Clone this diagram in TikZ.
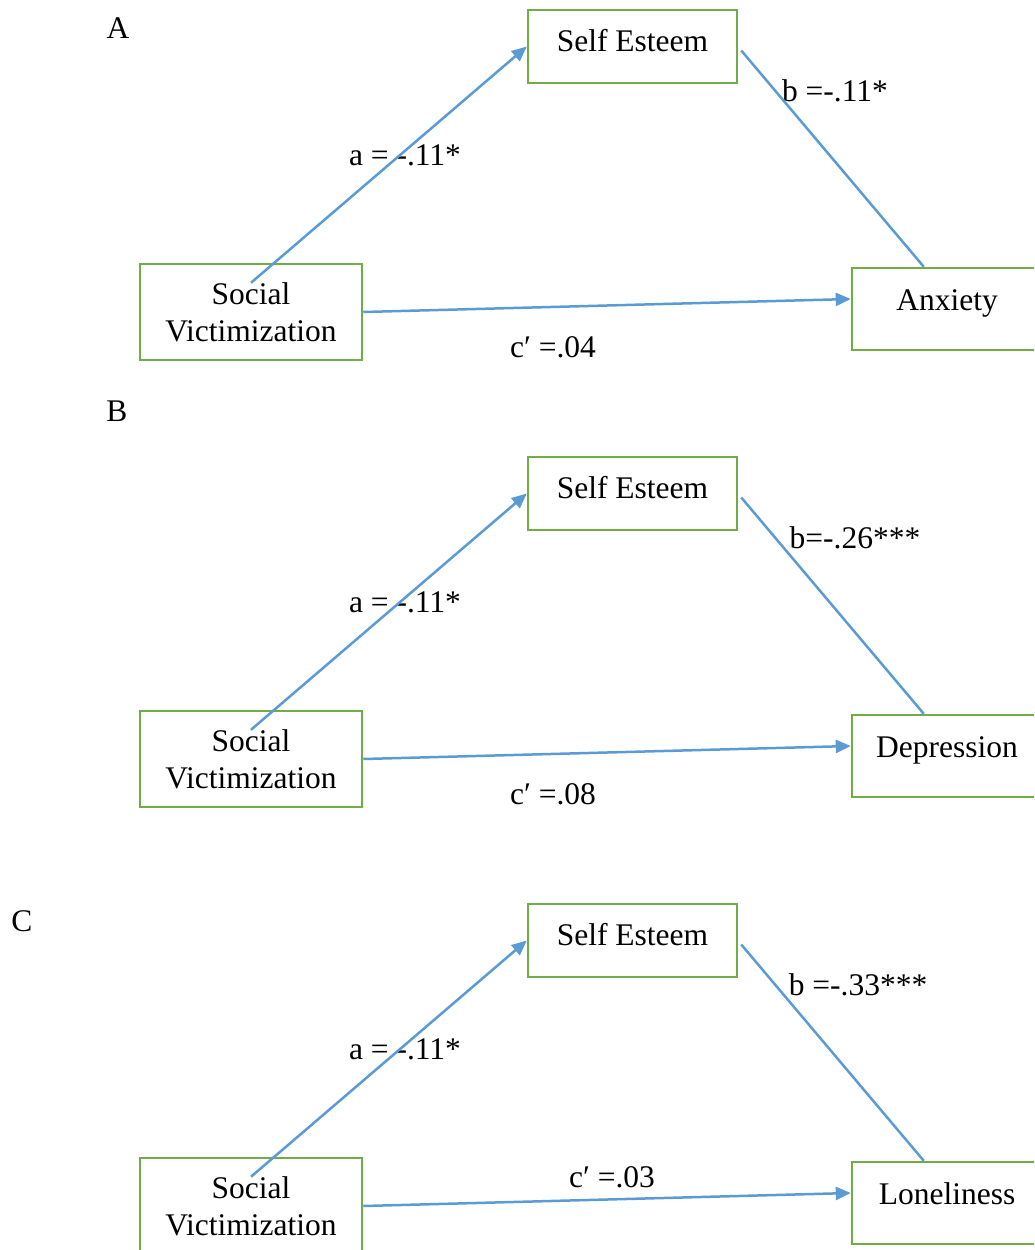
\documentclass[tikz,border=0pt]{standalone}
\usepackage{fontspec}
\setmainfont{Liberation Serif}
\usepackage{xcolor}
\usepackage{tikz}
\usetikzlibrary{shapes, arrows.meta, positioning, calc}
\definecolor{boxgreen}{RGB}{112,173,71}
\definecolor{lineblue}{RGB}{91,155,213}

\begin{document}
\begin{tikzpicture}
  [
    x=1pt, y=-1pt,
    every node/.style={font=\fontsize{31.5}{37}\selectfont},
    Mediator/.style={rectangle, draw=boxgreen, line width=2.5pt, minimum width=209pt,
      inner ysep=8pt, text height=33pt, text depth=24pt},
    Predictor/.style={rectangle, draw=boxgreen, line width=2.5pt, minimum width=222pt,
      minimum height=96pt, align=center},
    Outcome/.style={rectangle, draw=boxgreen, line width=2.5pt, minimum width=190pt,
      inner ysep=8pt, text height=34pt, text depth=32pt},
    Path/.style={draw=lineblue, line width=2.5pt},
    Coef/.style={inner sep=0pt}
  ]
  \useasboundingbox (0,0) rectangle (1034,1250);
  \clip (0,0) rectangle (1034,1250);
  % Panel A
  \node (lblA) at (118, 28) {A};
  \node[Mediator] (se1) at (632.5, 46.5) {Self Esteem};
  \node[Predictor] (sv1) at (251, 312) {Social\\Victimization};
  \node[Outcome] (out1) at (947, 309) {Anxiety};
  \node[Coef] (a1) at (405, 155) {a = -.11*};
  \node[Coef] (b1) at (835, 91) {b =-.11*};
  \node[Coef] (c1) at (553, 347) {c′ =.04};
  \path [-{Triangle[length=15pt, width=13pt]}, Path] ($(sv1.north)+(0,20)$) -- (se1.west);
  \path [Path] ($(se1.east)+(3,4)$) -- ($(out1.north west)+(73,0)$);
  \path [-{Triangle[length=15pt, width=13pt]}, Path] (sv1.east) -- ($(out1.west)+(0,-10)$);
  % Panel B
  \node (lblB) at (117, 411) {B};
  \node[Mediator] (se2) at (632.5, 493.5) {Self Esteem};
  \node[Predictor] (sv2) at (251, 759) {Social\\Victimization};
  \node[Outcome] (out2) at (947, 756) {Depression};
  \node[Coef] (a2) at (405, 602) {a = -.11*};
  \node[Coef] (b2) at (855, 538) {b=-.26***};
  \node[Coef] (c2) at (553, 794) {c′ =.08};
  \path [-{Triangle[length=15pt, width=13pt]}, Path] ($(sv2.north)+(0,20)$) -- (se2.west);
  \path [Path] ($(se2.east)+(3,4)$) -- ($(out2.north west)+(73,0)$);
  \path [-{Triangle[length=15pt, width=13pt]}, Path] (sv2.east) -- ($(out2.west)+(0,-10)$);
  % Panel C
  \node (lblC) at (22, 921) {C};
  \node[Mediator] (se3) at (632.5, 940.5) {Self Esteem};
  \node[Predictor] (sv3) at (251, 1206) {Social\\Victimization};
  \node[Outcome] (out3) at (947, 1203) {Loneliness};
  \node[Coef] (a3) at (405, 1049) {a = -.11*};
  \node[Coef] (b3) at (858, 985) {b =-.33***};
  \node[Coef] (c3) at (612, 1177) {c′ =.03};
  \path [-{Triangle[length=15pt, width=13pt]}, Path] ($(sv3.north)+(0,20)$) -- (se3.west);
  \path [Path] ($(se3.east)+(3,4)$) -- ($(out3.north west)+(73,0)$);
  \path [-{Triangle[length=15pt, width=13pt]}, Path] (sv3.east) -- ($(out3.west)+(0,-10)$);
\end{tikzpicture}
\end{document}
